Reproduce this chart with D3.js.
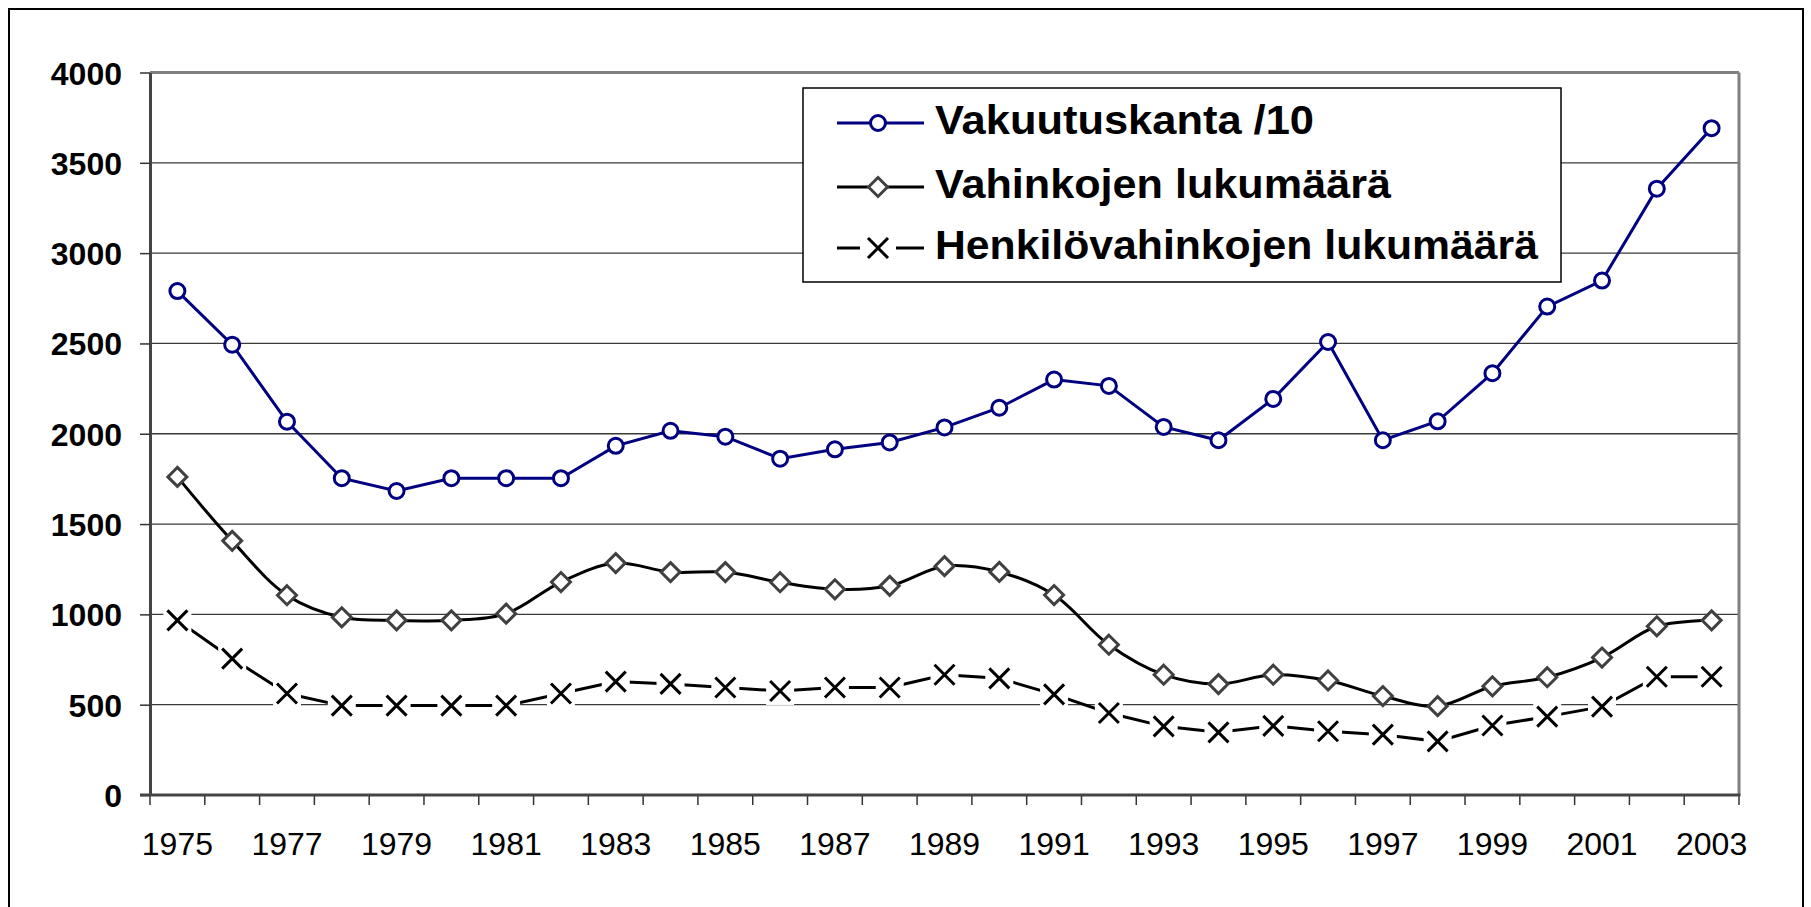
<!DOCTYPE html>
<html><head><meta charset="utf-8">
<script src="https://cdn.jsdelivr.net/npm/d3@7"></script>
<style>
html,body{margin:0;padding:0;background:#fff;}
svg{display:block;font-family:"Liberation Sans",Arial,sans-serif;}
</style></head>
<body>
<svg id="c" width="1811" height="907"></svg>
<script>
const years = d3.range(1975, 2004);
const labelYears = [1975,1977,1979,1981,1983,1985,1987,1989,1991,1993,1995,1997,1999,2001,2003];
const yTicks = [0,500,1000,1500,2000,2500,3000,3500,4000];
const seriesNames = ["Vakuutuskanta /10", "Vahinkojen lukumäärä", "Henkilövahinkojen lukumäärä"];
const vakuutuskanta = [2790,2493,2067,1754,1683,1754,1754,1754,1933,2016,1984,1862,1914,1952,2035,2144,2300,2265,2038,1964,2193,2508,1964,2069,2335,2704,2848,3357,3692];
const vahingot = [1761,1407,1106,984,967,967,1004,1179,1284,1234,1234,1178,1139,1158,1267,1235,1107,832,666,614,666,634,548,492,602,652,761,934,967];
const henkilovahingot = [967,755,562,495,495,495,495,562,628,615,595,576,595,595,666,646,557,454,380,347,383,353,334,297,385,434,489,655,655];

const svg = d3.select("#c");
const L = 150, R = 1739, T = 72.5, B = 795;

const x = d3.scaleBand().domain(years).range([L, R]).padding(0);
const cx = d => x(d) + x.bandwidth() / 2;
const y = d3.scaleLinear().domain([0, 4000]).range([B, T]);

// outer frame
svg.append("rect").attr("x", 9).attr("y", 9).attr("width", 1794).attr("height", 930)
  .attr("fill", "#fff").attr("stroke", "#000").attr("stroke-width", 2);

// gridlines
svg.append("g").selectAll("line").data(yTicks.filter(v => v > 0 && v < 4000)).join("line")
  .attr("x1", L).attr("x2", R).attr("y1", d => y(d)).attr("y2", d => y(d))
  .attr("stroke", "#3a3a3a").attr("stroke-width", 1.3);

// plot frame top/right
svg.append("line").attr("x1", L).attr("x2", R).attr("y1", T).attr("y2", T).attr("stroke", "#808080").attr("stroke-width", 3);
svg.append("line").attr("x1", R).attr("x2", R).attr("y1", T).attr("y2", B).attr("stroke", "#808080").attr("stroke-width", 3);

// y axis
const yAxis = svg.append("g").attr("transform", `translate(${L},0)`)
  .call(d3.axisLeft(y).tickValues(yTicks).tickSize(10).tickSizeOuter(0).tickPadding(18).tickFormat(d3.format("d")));
yAxis.select(".domain").attr("stroke", "#444").attr("stroke-width", 3);
yAxis.selectAll(".tick line").attr("stroke", "#333").attr("stroke-width", 1.5);
yAxis.selectAll("text").attr("font-size", 32).attr("font-weight", "bold").attr("fill", "#000")
  .attr("font-family", "Liberation Sans, Arial, sans-serif").attr("dy", "0.36em");

// x axis
const xAxis = svg.append("g").attr("transform", `translate(0,${B})`)
  .call(d3.axisBottom(x).tickValues(labelYears).tickSize(0).tickPadding(37));
xAxis.select(".domain").remove();
xAxis.selectAll("text").attr("font-size", 32).attr("fill", "#000")
  .attr("font-family", "Liberation Sans, Arial, sans-serif");
svg.append("g").selectAll("line").data(years.map(d => x(d)).concat([R])).join("line")
  .attr("x1", d => d).attr("x2", d => d).attr("y1", B).attr("y2", B + 10)
  .attr("stroke", "#333").attr("stroke-width", 1.5);
svg.append("line").attr("x1", L - 10).attr("x2", R + 1.5).attr("y1", B).attr("y2", B)
  .attr("stroke", "#444").attr("stroke-width", 3);

// series lines
const navy = "#000080";
const lineStraight = d3.line().x((d, i) => cx(years[i])).y(d => y(d));
const lineSmooth = d3.line().x((d, i) => cx(years[i])).y(d => y(d)).curve(d3.curveCatmullRom.alpha(0.5));

svg.append("path").attr("d", lineStraight(vakuutuskanta)).attr("fill", "none").attr("stroke", navy).attr("stroke-width", 3);
svg.append("path").attr("d", lineSmooth(vahingot)).attr("fill", "none").attr("stroke", "#000").attr("stroke-width", 3);
svg.append("path").attr("d", lineStraight(henkilovahingot)).attr("fill", "none").attr("stroke", "#000").attr("stroke-width", 3);

// markers
function circleMarker(g, px, py) {
  g.append("circle").attr("cx", px).attr("cy", py).attr("r", 7.5).attr("fill", "#fff").attr("stroke", navy).attr("stroke-width", 3);
}
function diamondMarker(g, px, py) {
  const s = 9.5;
  g.append("path").attr("d", `M${px},${py - s}L${px + s},${py}L${px},${py + s}L${px - s},${py}Z`)
    .attr("fill", "#fff").attr("stroke", "#404040").attr("stroke-width", 3);
}
function xMarker(g, px, py, bg) {
  const s = 10, b = 14;
  if (bg) g.append("rect").attr("x", px - b).attr("y", py - b).attr("width", 2 * b).attr("height", 2 * b).attr("fill", "#fff");
  g.append("path").attr("d", `M${px - s},${py - s}L${px + s},${py + s}M${px - s},${py + s}L${px + s},${py - s}`)
    .attr("stroke", "#000").attr("stroke-width", 3).attr("fill", "none");
}
const mk = svg.append("g");
vakuutuskanta.forEach((v, i) => circleMarker(mk, cx(years[i]), y(v)));
vahingot.forEach((v, i) => diamondMarker(mk, cx(years[i]), y(v)));
henkilovahingot.forEach((v, i) => xMarker(mk, cx(years[i]), y(v), true));

// legend
const lg = svg.append("g");
lg.append("rect").attr("x", 803).attr("y", 88).attr("width", 758).attr("height", 194)
  .attr("fill", "#fff").attr("stroke", "#000").attr("stroke-width", 1.5);
const rowsY = [123, 187, 248];
const widths = [379, 456, 603];
const lineCols = [navy, "#000", "#000"];
seriesNames.forEach((name, i) => {
  const ry = rowsY[i];
  if (i === 2) {
    lg.append("line").attr("x1", 837).attr("x2", 860).attr("y1", ry).attr("y2", ry).attr("stroke", "#000").attr("stroke-width", 3);
    lg.append("line").attr("x1", 896).attr("x2", 924).attr("y1", ry).attr("y2", ry).attr("stroke", "#000").attr("stroke-width", 3);
  } else {
    lg.append("line").attr("x1", 837).attr("x2", 924).attr("y1", ry).attr("y2", ry).attr("stroke", lineCols[i]).attr("stroke-width", 3);
  }
  if (i === 0) circleMarker(lg, 878, ry);
  if (i === 1) diamondMarker(lg, 878, ry);
  if (i === 2) xMarker(lg, 878, ry, false);
  lg.append("text").attr("x", 935).attr("y", ry + 11).attr("font-size", 40).attr("font-weight", "bold")
    .attr("fill", "#000").attr("textLength", widths[i]).attr("lengthAdjust", "spacingAndGlyphs").text(name);
});
</script>
</body></html>
